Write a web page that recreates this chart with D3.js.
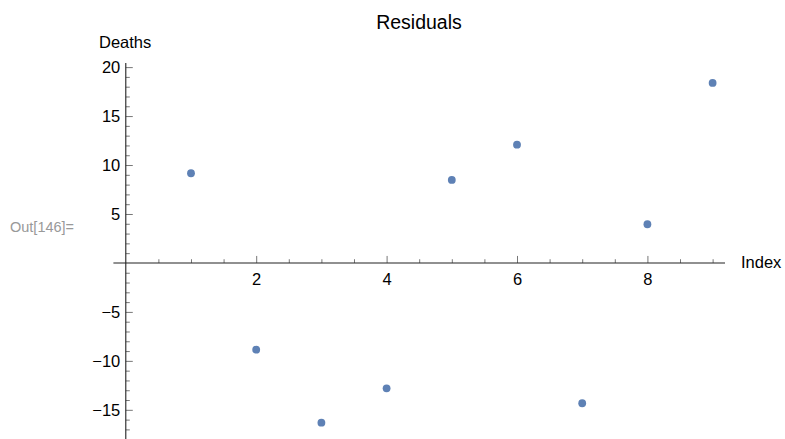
<!DOCTYPE html>
<html><head><meta charset="utf-8">
<script src="https://cdn.jsdelivr.net/npm/d3@7"></script>
<style>
html,body{margin:0;padding:0;background:#fff;}
svg{display:block;font-family:"Liberation Sans",Arial,sans-serif;}
</style></head>
<body>
<svg id="chart" width="785" height="439"></svg>
<script>
const indexValues = [1, 2, 3, 4, 5, 6, 7, 8, 9];
const residuals = [9.16, -8.86, -16.31, -12.8, 8.48, 12.08, -14.33, 3.95, 18.39];
const xMajorTicks = [2, 4, 6, 8];
const yMajorTicks = [-15, -10, -5, 5, 10, 15, 20];
const title = "Residuals";
const xLabel = "Index";
const yLabel = "Deaths";
const outLabel = "Out[146]=";

const svg = d3.select("#chart");
const x = d3.scaleLinear().domain([-0.19, 9.19]).range([113.4, 725]);
const y = d3.scaleLinear().domain([-17.98, 20.42]).range([439, 63]);

const xMinor = d3.range(0.5, 9.01, 0.5).filter(v => !xMajorTicks.includes(v));
const yMinor = d3.range(-17, 20.01, 1).filter(v => v !== 0 && !yMajorTicks.includes(v));

const fmt = v => (v < 0 ? "\u2212" + Math.abs(v) : String(v));

// x axis
const gx = svg.append("g").attr("transform", `translate(0,${y(0)})`);
gx.call(d3.axisBottom(x).tickValues(xMinor).tickSize(-3.7).tickFormat(""));
gx.call(g => g.selectAll(".domain").remove());
const gxM = svg.append("g").attr("transform", `translate(0,${y(0)})`);
gxM.call(d3.axisBottom(x).tickValues(xMajorTicks).tickSize(-7).tickPadding(10.3).tickFormat(fmt));
gxM.select(".domain").remove();
[gx, gxM].forEach(g => {
  g.selectAll(".tick line").attr("stroke", "#777").attr("stroke-width", 1);
  g.selectAll(".tick text").attr("fill", "#000").attr("font-size", "16.5px")
    .attr("font-family", "Liberation Sans, Arial, sans-serif");
});
svg.append("line").attr("x1", x.range()[0]).attr("x2", x.range()[1])
  .attr("y1", y(0)).attr("y2", y(0)).attr("stroke", "#222").attr("stroke-width", 1.1);

// y axis
const gy = svg.append("g").attr("transform", `translate(${x(0)},0)`);
gy.call(d3.axisLeft(y).tickValues(yMinor).tickSize(-4).tickFormat(""));
gy.select(".domain").remove();
const gyM = svg.append("g").attr("transform", `translate(${x(0)},0)`);
gyM.call(d3.axisLeft(y).tickValues(yMajorTicks).tickSize(-7).tickPadding(5.5).tickFormat(fmt));
gyM.select(".domain").remove();
[gy, gyM].forEach(g => {
  g.selectAll(".tick line").attr("stroke", "#777").attr("stroke-width", 1);
  g.selectAll(".tick text").attr("fill", "#000").attr("font-size", "16.5px")
    .attr("font-family", "Liberation Sans, Arial, sans-serif");
});
svg.append("line").attr("x1", x(0)).attr("x2", x(0))
  .attr("y1", y.range()[1]).attr("y2", y.range()[0]).attr("stroke", "#222").attr("stroke-width", 1.1);

// points
svg.append("g").selectAll("circle")
  .data(indexValues.map((v, i) => [v, residuals[i]]))
  .join("circle")
  .attr("cx", d => x(d[0])).attr("cy", d => y(d[1]))
  .attr("r", 3.9).attr("fill", "#5e81b5");

// texts
svg.append("text").attr("x", 419).attr("y", 29.3).attr("text-anchor", "middle")
  .attr("font-size", "19.5px").attr("fill", "#000").text(title);
svg.append("text").attr("x", 99).attr("y", 48.3)
  .attr("font-size", "16.5px").attr("fill", "#000").text(yLabel);
svg.append("text").attr("x", 741).attr("y", 268.3)
  .attr("font-size", "16.5px").attr("fill", "#000").text(xLabel);
svg.append("text").attr("x", 10).attr("y", 231.5)
  .attr("font-size", "14.5px").attr("fill", "#999").text(outLabel);
</script>
</body></html>
